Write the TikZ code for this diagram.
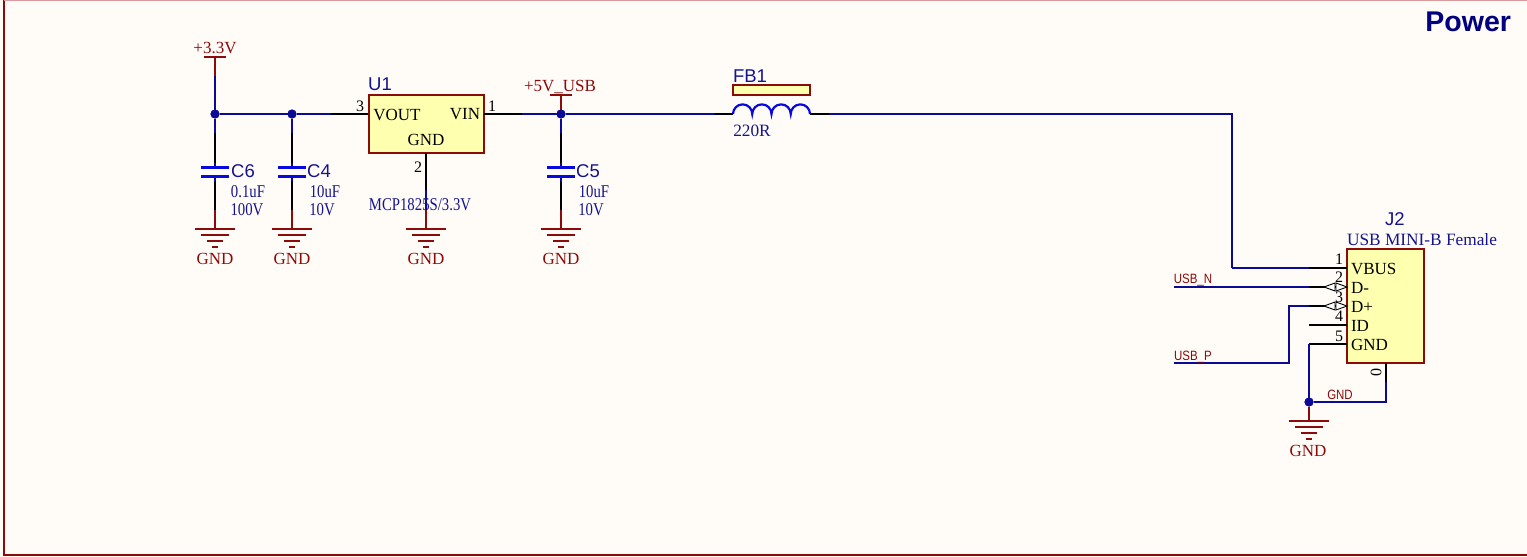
\documentclass[tikz,border=0pt]{standalone}
\usepackage{fontspec}
\setmainfont{Liberation Serif}
\setsansfont{Liberation Sans}
\newfontfamily\narrowserif[FakeStretch=0.82]{Liberation Serif}
\newfontfamily\narrowsans[FakeStretch=0.85]{Liberation Sans}
\definecolor{paper}{HTML}{FFFCF8}
\definecolor{wirecol}{HTML}{0A0A96}
\definecolor{platecol}{HTML}{0808E0}
\definecolor{netred}{HTML}{8B0A0A}
\definecolor{toppink}{HTML}{D89A9A}
\definecolor{bodyfill}{HTML}{FFFFB0}
\definecolor{textblue}{HTML}{14148C}
\definecolor{titlecol}{HTML}{000080}
\tikzset{
  x=1pt,y=-1pt,
  every node/.style={inner sep=0pt,outer sep=0pt},
  wire/.style={draw=wirecol,line width=2.1pt,line join=miter},
  pinline/.style={draw=black,line width=2.1pt},
  portline/.style={draw=netred,line width=2.1pt},
  plate/.style={draw=platecol,line width=2.2pt},
  body/.style={draw=netred,fill=bodyfill,line width=2.1pt},
  junction/.style={circle,fill=wirecol,minimum size=9pt},
  refdes/.style={text=textblue,font=\sffamily\fontsize{18.5}{18.5}\selectfont},
  valtext/.style={text=textblue,font=\narrowserif\fontsize{18}{18}\selectfont},
  comptext/.style={text=textblue,font=\fontsize{17.3}{17.3}\selectfont},
  pintext/.style={text=black,font=\fontsize{17}{17}\selectfont},
  pinnum/.style={text=black,font=\fontsize{16}{16}\selectfont},
  porttext/.style={text=netred,font=\fontsize{17}{17}\selectfont},
  nettext/.style={text=netred,font=\narrowsans\fontsize{13.5}{13.5}\selectfont},
  gndsym/.pic={
    \draw[portline] (-20,0) -- (20,0);
    \draw[portline] (-14,6) -- (14,6);
    \draw[portline] (-8,12) -- (8,12);
    \draw[portline] (-3,18) -- (3,18);
  },
  capsym/.pic={
    \draw[plate] (-14,-4.5) -- (14,-4.5);
    \draw[plate] (-14,4.5) -- (14,4.5);
  },
  portbar/.pic={\draw[portline] (-11,0) -- (11,0);},
  hiz/.pic={
    \draw[draw=black,fill=white,line width=.9pt] (-23,0) -- (-12,-4) -- (-12,4) -- cycle;
    \draw[draw=black,fill=white,line width=.9pt] (0,0) -- (-11,-4) -- (-11,4) -- cycle;
  },
}
\begin{document}
\begin{tikzpicture}
\useasboundingbox (0,0) rectangle (1527,557);
\fill[paper] (0,0) rectangle (1527,557);
\begin{scope}
\clip (0,0) rectangle (1527,557);
\draw[draw=netred,line width=2.1pt] (4.3,-2) rectangle (1545,555);
\draw[draw=toppink,line width=1pt] (4.3,0.4) -- (1527,0.4);
\end{scope}
\node[anchor=east,text=titlecol,font=\sffamily\bfseries\fontsize{28.5}{28.5}\selectfont] (title) at (1511,22) {Power};

% key points
\coordinate (p33) at (215,57);   \coordinate (p33w) at (215,76);
\node[junction] (j1) at (215,114) {};
\node[junction] (j2) at (292,114) {};
\coordinate (u3w) at (331,114); \coordinate (u3) at (369,114);
\coordinate (u1) at (484,114);  \coordinate (u1w) at (522,114);
\node[junction] (j3) at (561,114) {};
\coordinate (p5) at (561,95);
\coordinate (fbw) at (715,114); \coordinate (fbl) at (733,114);
\coordinate (fbr) at (810,114); \coordinate (fbrw) at (829,114);
\coordinate (corner1) at (1232,114); \coordinate (corner2) at (1232,268);

% capacitor branches
\foreach \nm/\x in {c6/215,c4/292,c5/561}{
  \coordinate (\nm a) at (\x,133);
  \coordinate (\nm b) at (\x,163);
  \coordinate (\nm t) at (\x,167.5);
  \coordinate (\nm m) at (\x,172);
  \coordinate (\nm u) at (\x,176.5);
  \coordinate (\nm d) at (\x,181);
  \coordinate (\nm e) at (\x,210);
  \coordinate (\nm g) at (\x,229);
}
\coordinate (u2top) at (426,153); \coordinate (u2w) at (426,190);
\coordinate (u2e) at (426,210);   \coordinate (u2g) at (426,229);

% upper-left power
\draw[portline] (p33) -- (p33w);
\pic at (p33) {portbar};
\draw[wire] (p33w) -- (j1);
\draw[wire] (j1) -- (j2);
\draw[wire] (j2) -- (u3w);
\draw[pinline] (u3w) -- (u3);
\foreach \nm/\jn in {c6/j1,c4/j2,c5/j3}{
  \draw[wire] (\jn) -- (\nm a);
  \draw[pinline] (\nm a) -- (\nm b);
  \draw[wire] (\nm b) -- (\nm t);
  \draw[wire] (\nm u) -- (\nm d);
  \draw[pinline] (\nm d) -- (\nm e);
  \draw[portline] (\nm e) -- (\nm g);
  \pic at (\nm m) {capsym};
  \pic at (\nm g) {gndsym};
}
% U1
\node[body,minimum width=115pt,minimum height=58pt] (U1) at (426.5,124) {};
\draw[pinline] (u1) -- (u1w);
\draw[wire] (u1w) -- (j3);
\draw[pinline] (u2top) -- (u2w);
\draw[wire] (u2w) -- (u2e);
\draw[portline] (u2e) -- (u2g);
\pic at (u2g) {gndsym};
% 5V
\draw[portline] (p5) -- (j3);
\pic at (p5) {portbar};
\draw[wire] (j3) -- (fbw);
\draw[pinline] (fbw) -- (fbl);
\draw[pinline] (fbr) -- (fbrw);
\draw[wire] (fbrw) -- (corner1) -- (corner2);
% FB1
\node[body,minimum width=77pt,minimum height=10pt] (FBbar) at (771.5,90) {};
\draw[plate] (fbl) arc[start angle=180,end angle=360,radius=9.625]
  arc[start angle=180,end angle=360,radius=9.625]
  arc[start angle=180,end angle=360,radius=9.625]
  arc[start angle=180,end angle=360,radius=9.625];

% J2
\node[body,minimum width=77pt,minimum height=114pt] (J2) at (1385.5,306) {};
\coordinate (p1w) at (1309,268); \coordinate (p1) at (1347,268);
\coordinate (p2s) at (1174,287); \coordinate (p2w) at (1309,287); \coordinate (p2) at (1347,287);
\coordinate (p3s) at (1174,363); \coordinate (p3c) at (1289,363); \coordinate (p3d) at (1289,306);
\coordinate (p3w) at (1309,306); \coordinate (p3) at (1347,306);
\coordinate (p4w) at (1309,325); \coordinate (p4) at (1347,325);
\coordinate (p5w) at (1309,344); \coordinate (p5e) at (1347,344);
\node[junction] (j4) at (1309,402) {};
\coordinate (gj) at (1309,421);
\coordinate (p0a) at (1386,363); \coordinate (p0b) at (1386,382); \coordinate (p0c) at (1386,402);
\draw[wire] (corner2) -- (p1w);
\draw[pinline] (p1w) -- (p1);
\draw[wire] (p2s) -- (p2w);
\draw[pinline] (p2w) -- (p2);
\draw[wire] (p3s) -- (p3c) -- (p3d) -- (p3w);
\draw[pinline] (p3w) -- (p3);
\draw[pinline] (p4w) -- (p4);
\draw[pinline] (p5w) -- (p5e);
\draw[wire] (p5w) -- (j4);
\draw[portline] (j4) -- (gj);
\pic at (gj) {gndsym};
\draw[pinline] (p0a) -- (p0b);
\draw[wire] (p0b) -- (p0c) -- (j4);
\pic at (p2) {hiz};
\pic at (p3) {hiz};

% redraw junctions above wires
\foreach \jn in {j1,j2,j3,j4}{\fill[wirecol] (\jn) circle[radius=4.5];}

% texts
\node[porttext] (t33) at (215,48) {+3.3V};
\node[porttext] (t5) at (560,86.5) {+5V\_USB};
\node[porttext] (g1) at (215,259) {GND};
\node[porttext] (g2) at (292,259) {GND};
\node[porttext] (g3) at (426,259) {GND};
\node[porttext] (g4) at (561,259) {GND};
\node[porttext] (g5) at (1308,451) {GND};
\node[refdes] (rU1) at (380,84.5) {U1};
\node[refdes] (rC6) at (243,171) {C6};
\node[refdes] (rC4) at (319,171) {C4};
\node[refdes] (rC5) at (588,171) {C5};
\node[refdes] (rFB) at (750,76) {FB1};
\node[refdes] (rJ2) at (1395,219) {J2};
\node[valtext] (v1a) at (248,192) {0.1uF};
\node[valtext] (v1b) at (247,210) {100V};
\node[valtext] (v2a) at (325,192) {10uF};
\node[valtext] (v2b) at (322,210) {10V};
\node[valtext] (v3a) at (594,192) {10uF};
\node[valtext] (v3b) at (591,210) {10V};
\node[valtext] (vMCP) at (420,205) {MCP1825S/3.3V};
\node[comptext] (vFB) at (752,131) {220R};
\node[comptext] (vUSB) at (1422,240) {USB MINI-B Female};
\node[pintext] (tVOUT) at (397,114.5) {VOUT};
\node[pintext] (tVIN) at (465,114.5) {VIN};
\node[pintext] (tGND) at (426,139.5) {GND};
\node[pinnum] (n3) at (360,106) {3};
\node[pinnum] (n1) at (492,106) {1};
\node[pinnum] (n2) at (418,167) {2};
\foreach \nm/\lbl/\y in {a/VBUS/268.5,b/D-/287.5,c/D+/306.5,d/ID/325.5,e/GND/344.5}{
  \node[pintext,anchor=west] (l\nm) at (1351,\y) {\lbl};
}
\foreach \nm/\lbl/\y in {a/1/259,b/2/277,c/3/297,d/4/316,e/5/336}{
  \node[pinnum] (m\nm) at (1339,\y) {\lbl};
}
\node[pinnum,rotate=-90] (m0) at (1376,372) {0};
\node[nettext] (nN) at (1193,280) {USB\_N};
\node[nettext] (nP) at (1193,357) {USB\_P};
\node[nettext] (nG) at (1340,395) {GND};
\end{tikzpicture}
\end{document}
